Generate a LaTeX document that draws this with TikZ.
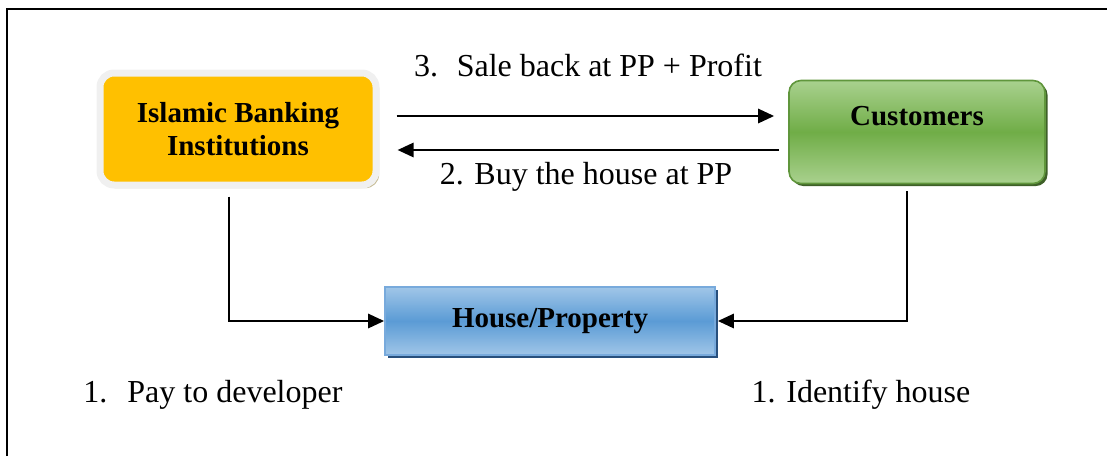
\documentclass[tikz,border=0pt]{standalone}
\usepackage{fontspec}
\setmainfont{Liberation Serif}
\usetikzlibrary{shadows,arrows.meta}
\definecolor{bankorange}{RGB}{255,192,0}
\definecolor{banktan}{RGB}{196,186,146}
\definecolor{custlight}{RGB}{169,209,142}
\definecolor{custmid}{RGB}{112,173,71}
\definecolor{custedge}{RGB}{96,150,60}
\definecolor{custshadow}{RGB}{62,96,40}
\definecolor{houselight}{RGB}{160,198,232}
\definecolor{housemid}{RGB}{91,155,213}
\definecolor{houseedge}{RGB}{120,170,220}
\definecolor{houseshadow}{RGB}{40,80,125}
\begin{document}
\begin{tikzpicture}[x=0.5pt,y=-0.5pt,
    arr/.style={line width=1.4pt,-{Triangle[length=8pt,width=7pt]}},
    lbl/.style={font=\fontsize{16}{19}\selectfont},
    boxtext/.style={font=\fontsize{14.5}{16.5}\selectfont\bfseries,align=center}]
    \useasboundingbox (0,0) rectangle (1107,456);
    \draw[line width=1pt] (7,456) -- (7,9) -- (1107,9);
    % boxes
    \node[boxtext,fill=bankorange,draw=black!6,line width=3.5pt,rounded corners=7pt,
          minimum width=138pt,minimum height=56pt,
          general shadow={fill=banktan,shadow xshift=1.6pt,shadow yshift=-1.6pt}]
          (bank) at (238,129) {Islamic Banking\\Institutions};
    \node[boxtext,draw=custedge,line width=0.8pt,rounded corners=6pt,
          top color=custlight,bottom color=custlight,middle color=custmid,
          minimum width=128pt,minimum height=51.5pt,
          general shadow={fill=custshadow,shadow xshift=1.3pt,shadow yshift=-1.3pt}]
          (cust) at (917,132) {Customers\\\mbox{}};
    \node[boxtext,draw=houseedge,line width=0.8pt,
          top color=houselight,bottom color=houselight,middle color=housemid,
          minimum width=165pt,minimum height=34pt,
          general shadow={fill=houseshadow,shadow xshift=1.3pt,shadow yshift=-1.3pt}]
          (house) at (550,321) {House/Property};
    % connectors
    \draw[arr,shorten <=8.5pt,shorten >=7pt] ([yshift=8pt]cust.west-|bank.east) -- ([yshift=8pt]cust.west);
    \draw[arr,shorten <=4.5pt,shorten >=9pt] ([yshift=-9pt]cust.west) -- ([yshift=-9pt]bank.east|-cust.west);
    \draw[arr,shorten <=4pt] ([xshift=-4.5pt]bank.south) |- (house.west);
    \draw[arr,shorten <=3.5pt,shorten >=1pt] ([xshift=-5pt]cust.south) |- (house.east);
    % labels
    \node[lbl] (salelbl) at (588,65) {3.~ Sale back at PP + Profit};
    \node[lbl] (buylbl) at (586,177) {2. Buy the house at PP};
    \node[lbl,anchor=west,inner sep=0pt] (paylbl) at (83,395) {1.\hspace{10pt}Pay to developer};
    \node[lbl] (idlbl) at (861,395) {1. Identify house};
\end{tikzpicture}
\end{document}
